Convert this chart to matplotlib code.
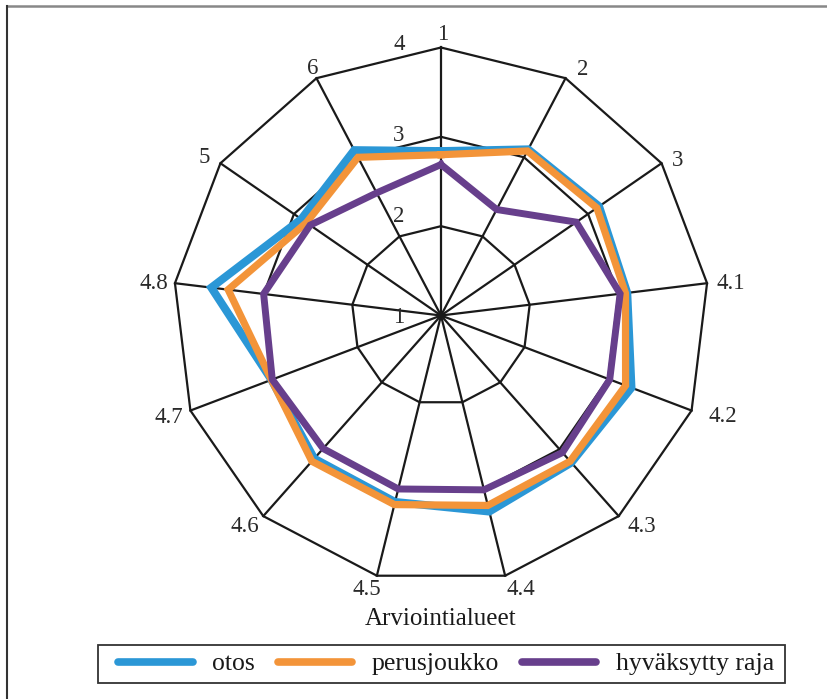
import numpy as np
import matplotlib
matplotlib.use("Agg")
import matplotlib.pyplot as plt
from matplotlib.lines import Line2D
from matplotlib.patches import Rectangle
from matplotlib.transforms import offset_copy

plt.rcParams['font.family'] = ['Liberation Serif', 'DejaVu Serif']

categories = ["1", "2", "3", "4.1", "4.2", "4.3", "4.4", "4.5", "4.6", "4.7", "4.8", "5", "6"]
otos = [2.84, 3.10, 3.15, 3.10, 3.28, 3.20, 3.26, 3.15, 3.14, 3.03, 3.59, 2.90, 3.09]
perusjoukko = [2.80, 3.08, 3.12, 3.08, 3.21, 3.18, 3.19, 3.18, 3.18, 3.03, 3.40, 2.83, 3.00]
hyvaksytty_raja = [2.69, 2.34, 2.84, 3.02, 3.02, 3.05, 3.01, 3.00, 2.99, 3.02, 3.00, 2.78, 2.55]
series_names = ["otos", "perusjoukko", "hyväksytty raja"]
radial_ticks = [1, 2, 3, 4]
axis_title = "Arviointialueet"

colors = ["#2B97D6", "#F39439", "#673F8C"]

W, H = 828, 699
fig = plt.figure(figsize=(W / 100, H / 100), dpi=100)

cx, cy, R = 441, 315.5, 268
ax = fig.add_axes([(cx - R) / W, (H - cy - R) / H, 2 * R / W, 2 * R / H], projection='polar')
ax.set_theta_zero_location('N')
ax.set_theta_direction(-1)
ax.set_ylim(1, 4)
ax.grid(False)
ax.set_xticks([])
ax.set_yticks([])
ax.spines['polar'].set_visible(False)
ax.patch.set_visible(False)

n = len(categories)
theta = np.arange(n) * 2 * np.pi / n
theta_closed = np.append(theta, theta[0])

# polygon grid rings
for v in radial_ticks[1:]:
    ax.plot(theta_closed, [v] * (n + 1), color='#1a1a1a', lw=1.6, zorder=1, clip_on=False)
# spokes
for t in theta:
    ax.plot([t, t], [1, 4], color='#1a1a1a', lw=1.6, zorder=1, clip_on=False)

# data
for vals, col, lw in zip([otos, perusjoukko, hyvaksytty_raja], colors, [5.8, 5.2, 5.0]):
    ax.plot(theta_closed, list(vals) + [vals[0]], color=col, lw=lw, zorder=3,
            solid_joinstyle='miter', clip_on=False)

# category labels
label_offsets = [(2, -13), (17, -9), (16, -3), (24, 0), (31, 6), (23, 10), (16, 14),
                 (-10, 14), (-18, 10), (-22, 7), (-21, 0), (-16, -6), (-4, -10)]
for t, lab, (dx, dy) in zip(theta, categories, label_offsets):
    tr = offset_copy(ax.transData, fig=fig, x=dx, y=-dy, units='dots')
    ax.text(t, 4, lab, transform=tr, ha='center', va='center', fontsize=16.5,
            color='#2a2a2a', clip_on=False)

# radial labels
radial_offsets = [(-42, 2), (-42, -10), (-42, -1), (-42, -3)]
for v, (dx, dy) in zip(radial_ticks, radial_offsets):
    tr = offset_copy(ax.transData, fig=fig, x=dx, y=-dy, units='dots')
    ax.text(0, v, str(v), transform=tr, ha='center', va='center', fontsize=16.5,
            color='#2a2a2a', clip_on=False)

fig.text(441 / W, 1 - 619 / H, axis_title, ha='center', va='center', fontsize=18,
         color='#1a1a1a')

handles = [Line2D([], [], color=c, lw=5.5, solid_capstyle='round') for c in colors]
leg = fig.legend(handles, series_names, loc='center', bbox_to_anchor=(446 / W, 1 - 664 / H),
                 ncol=3, fontsize=18.5, frameon=False, handlelength=2.9,
                 handletextpad=0.75, columnspacing=0.9, borderpad=0.2, borderaxespad=0)
for t in leg.get_texts():
    t.set_color('#1a1a1a')

# legend box
fig.add_artist(Rectangle((98 / W, 1 - 683 / H), 687 / W, 38 / H, transform=fig.transFigure,
                         facecolor='none', edgecolor='#333333', lw=1.3))

# figure frame
fig.add_artist(Line2D([7 / W, 1], [1 - 5.5 / H, 1 - 5.5 / H], transform=fig.transFigure,
                      color='#888888', lw=1.8))
fig.add_artist(Line2D([7.5 / W, 7.5 / W], [0, 1 - 5.5 / H], transform=fig.transFigure,
                      color='#333333', lw=1.5))

fig.savefig("out.png", dpi=100)
